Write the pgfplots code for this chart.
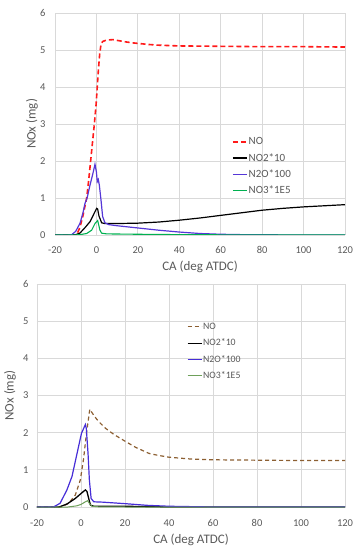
\documentclass[border=0pt]{standalone}
\usepackage{pgfplots}
\pgfplotsset{compat=1.18}
\usepackage{fontspec}
\setmainfont{Carlito}
\definecolor{gridc}{HTML}{D9D9D9}
\definecolor{txt}{HTML}{595959}
\definecolor{noRed}{HTML}{FF1A1A}
\definecolor{nBlue}{RGB}{85,55,215}
\definecolor{nGreen}{HTML}{00B050}
\definecolor{noBrown}{RGB}{140,95,50}
\definecolor{nBlueB}{RGB}{70,45,215}
\definecolor{nGreenB}{RGB}{110,160,90}
\pgfplotsset{
  excel/.style={
    scale only axis,
    xmin=-20, xmax=120, ymin=0, ymax=6,
    xtick={-20,0,...,120}, ytick={0,1,...,6},
    grid=major,
    major grid style={gridc, line width=0.8pt},
    axis line style={draw=none},
    major tick length=0pt,
    tick label style={font=\fontsize{10.5}{12}\selectfont, text=txt},
    /pgf/number format/assume math mode=true,
    label style={font=\fontsize{13}{15}\selectfont, text=txt},
    xlabel={CA (deg ATDC)}, ylabel={NOx (mg)},
    legend cell align=left,
    legend image code/.code={\draw[##1] (0pt,0pt) -- (14pt,0pt);},
    legend style={draw=none, fill=none, inner sep=0pt, row sep=4.1pt,
      font=\fontsize{11}{12}\selectfont, text=txt,
      nodes={inner sep=1pt, text height=8pt, text depth=2pt}},
  }
}
\begin{document}
\begin{tikzpicture}
\useasboundingbox (0,0) rectangle (363pt,550pt);
% ---------- top chart ----------
\begin{axis}[excel,
  at={(55pt,315pt)}, anchor=south west,
  width=290pt, height=222pt,
  xticklabel style={yshift=-8pt},
  yticklabel style={xshift=-6pt},
  xlabel style={at={(axis description cs:0.5,-0.145)}, anchor=center},
  ylabel style={at={(axis description cs:-0.079,0.5)}, anchor=center, rotate=0},
  legend style={at={(axis description cs:0.61,0.447)}, anchor=north west},
]
\addplot[noRed, line width=1.6pt, dash pattern=on 5pt off 3pt] coordinates {
(-20,0) (-10,0) (-9.5,0.01) (-8,0.2) (-6.6,0.5) (-4.7,1.0) (-3.7,1.5) (-2.8,2.0)
(-1.9,2.5) (-1,3.0) (-0.2,3.5) (0.4,4.0) (1,4.5) (1.6,4.9) (2.2,5.15) (3,5.23)
(5,5.27) (8,5.28) (10,5.26) (14,5.22) (18,5.19) (25,5.15) (30,5.13) (40,5.11)
(60,5.10) (80,5.09) (100,5.09) (120,5.08)};
\addlegendentry{NO}
\addplot[black, line width=1.2pt] coordinates {
(-20,0) (-12,0) (-10,0.01) (-8,0.05) (-5.5,0.2) (-3.1,0.36) (-1.5,0.54) (0.1,0.72)
(0.6,0.7) (1.2,0.52) (2.5,0.33) (4,0.31) (10,0.31) (20,0.32) (30,0.35) (40,0.4)
(50,0.46) (60,0.53) (70,0.6) (80,0.67) (90,0.72) (100,0.76) (110,0.79) (120,0.82)};
\addlegendentry{NO2*10}
\addplot[nBlue, line width=1.2pt] coordinates {
(-20,0) (-13,0) (-11.9,0.01) (-10,0.1) (-7.9,0.32) (-6.5,0.6) (-5.5,0.86) (-4.5,1.0)
(-3.1,1.35) (-1.5,1.71) (-0.7,1.91) (0,1.7) (0.4,1.44) (0.9,1.5) (1.4,1.35)
(2.2,0.95) (3,0.5) (4.1,0.33) (6,0.28) (10,0.25) (20,0.19) (30,0.13) (40,0.08)
(50,0.04) (60,0.02) (70,0.01) (80,0.005) (120,0)};
\addlegendentry{N2O*100}
\addplot[nGreen, line width=1.1pt] coordinates {
(-20,0) (-11,0) (-8,0.01) (-4.7,0.04) (-2.3,0.13) (-0.7,0.31) (0.6,0.39) (1.7,0.13)
(2.5,0.05) (5,0.03) (20,0.02) (40,0.01) (60,0.005) (120,0)};
\addlegendentry{NO3*1E5}
\end{axis}
% ---------- bottom chart ----------
\begin{axis}[excel,
  at={(37pt,43pt)}, anchor=south west,
  width=308pt, height=223pt,
  xticklabel style={yshift=-9pt},
  yticklabel style={xshift=-5pt},
  xlabel style={at={(axis description cs:0.5,-0.148)}, anchor=center},
  ylabel style={at={(axis description cs:-0.088,0.5)}, anchor=center, rotate=0},
  legend image code/.code={\draw[#1, line width=0.9pt] (0pt,0pt) -- (14pt,0pt);},
  legend style={at={(axis description cs:0.487,0.837)}, anchor=north west,
    font=\fontsize{9.8}{11}\selectfont, row sep=4.4pt},
]
\addplot[noBrown, line width=1.2pt, dash pattern=on 4pt off 3pt] coordinates {
(-20,0) (-9,0) (-8.7,0.01) (-5.6,0.1) (-2.6,0.32) (-0.3,0.73) (1.2,1.31) (2.4,1.94)
(4,2.63) (6,2.45) (8,2.3) (11.1,2.12) (15,1.95) (20.3,1.76) (25,1.6) (31,1.44)
(35,1.39) (40,1.34) (50,1.29) (60,1.27) (80,1.26) (100,1.25) (120,1.25)};
\addlegendentry{NO}
\addplot[black, line width=1.3pt] coordinates {
(-20,0) (-10,0) (-9.5,0.01) (-6.4,0.08) (-2.6,0.23) (0.15,0.37) (2,0.46) (2.7,0.42)
(3.5,0.23) (4.3,0.05) (5.8,0.02) (20,0.02) (30,0.01) (40,0) (120,0)};
\addlegendentry{NO2*10}
\addplot[nBlueB, line width=1.2pt] coordinates {
(-20,0) (-12.5,0) (-9.5,0.1) (-6.4,0.46) (-4.1,0.82) (-1.8,1.44) (0.2,1.98) (2,2.22)
(2.4,2.12) (3.2,1.44) (3.8,0.73) (4.6,0.23) (5.8,0.14) (10,0.13) (20,0.09)
(30,0.045) (40,0.02) (50,0.01) (60,0) (120,0)};
\addlegendentry{N2O*100}
\addplot[nGreenB, line width=1pt] coordinates {
(-20,0) (-6,0) (-2,0.03) (0,0.07) (2,0.14) (3,0.17) (4,0.08) (5,0.02) (8,0.005)
(20,0) (120,0)};
\addlegendentry{NO3*1E5}
\end{axis}
\end{tikzpicture}
\end{document}
